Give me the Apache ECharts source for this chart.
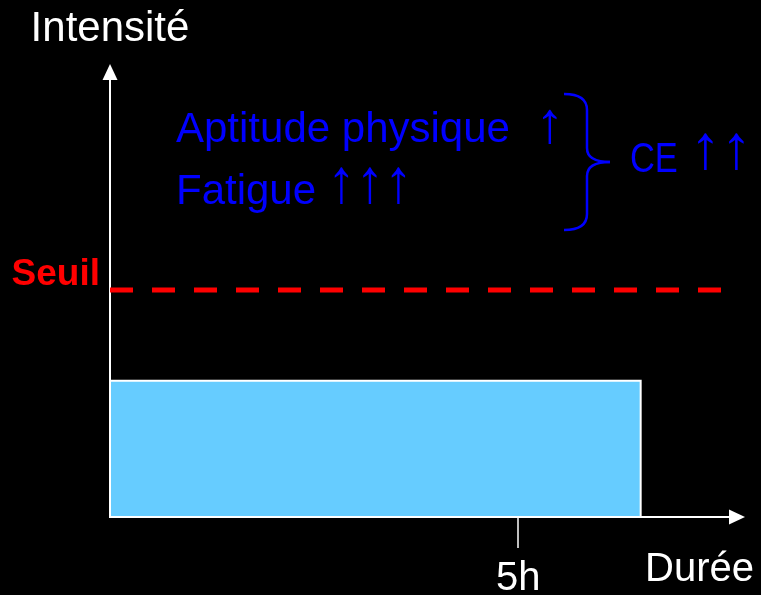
<!DOCTYPE html>
<html>
<head>
<meta charset="utf-8">
<script src="https://cdn.jsdelivr.net/npm/echarts@6/dist/echarts.min.js"></script>
<style>
html,body{margin:0;padding:0;background:#000;}
#chart{width:761px;height:595px;}
</style>
</head>
<body>
<div id="chart"></div>
<script>
// bloc d'effort : de 0 à 6.5 h, intensité 60
const blocDuree = [0, 6.5];
const blocIntensite = [60];
const seuil = 100;
const seuilDuree = [0, 7.5];
const dureeTicks = [5];
const dureeLabels = ['5h'];
const seuilLabel = 'Seuil';

const font = 'Liberation Sans, Arial, sans-serif';
const blue = '#0000ff';
const braceStyle = {fill: 'none', stroke: blue, lineWidth: 2.5};

function blueText(x, y, text, size, extra, scaleX) {
    return {
        type: 'text', x: x, y: y, scaleX: scaleX || 1,
        style: Object.assign({text: text, fill: blue, font: size + 'px ' + font, verticalAlign: 'middle'}, extra || {})
    };
}

const chart = echarts.init(document.getElementById('chart'));
chart.setOption({
    backgroundColor: '#000',
    animation: false,
    grid: {left: 110, right: 24, top: 72, bottom: 78, outerBoundsMode: 'none'},
    xAxis: {
        type: 'value',
        min: 0,
        max: 7.68,
        splitLine: {show: false},
        axisLine: {
            show: true,
            onZero: false,
            symbol: ['none', 'triangle'],
            symbolSize: [15, 16],
            lineStyle: {color: '#fff', width: 2}
        },
        axisTick: {
            show: true,
            customValues: dureeTicks,
            length: 31,
            lineStyle: {color: '#fff', width: 1.5}
        },
        axisLabel: {
            customValues: dureeTicks,
            formatter: v => dureeLabels[dureeTicks.indexOf(v)],
            color: '#fff',
            fontFamily: font,
            fontSize: 40,
            margin: 42
        }
    },
    yAxis: {
        type: 'value',
        min: 0,
        max: 196,
        name: 'Intensité',
        nameLocation: 'end',
        nameGap: 22,
        nameTextStyle: {color: '#fff', fontFamily: font, fontSize: 42, align: 'center'},
        splitLine: {show: false},
        axisLine: {
            show: true,
            onZero: false,
            symbol: ['none', 'triangle'],
            symbolSize: [15, 16],
            lineStyle: {color: '#fff', width: 2}
        },
        axisTick: {show: false},
        axisLabel: {
            customValues: [seuil],
            formatter: () => seuilLabel,
            color: '#ff0000',
            fontFamily: font,
            fontWeight: 'bold',
            fontSize: 37,
            lineHeight: 30,
            margin: 10,
            verticalAlign: 'bottom'
        }
    },
    series: [
        {
            type: 'custom',
            z: 1,
            renderItem(params, api) {
                const p0 = api.coord([api.value(0), 0]);
                const p1 = api.coord([api.value(1), api.value(2)]);
                return {
                    type: 'rect',
                    shape: {x: p0[0], y: p1[1], width: p1[0] - p0[0], height: p0[1] - p1[1]},
                    style: {fill: '#66ccff', stroke: '#fff', lineWidth: 2}
                };
            },
            data: [[blocDuree[0], blocDuree[1], blocIntensite[0]]]
        },
        {
            type: 'line',
            symbol: 'none',
            lineStyle: {color: '#ff0000', width: 5, type: [23, 19]},
            data: [[seuilDuree[0], seuil], [seuilDuree[1], seuil]]
        }
    ],
    graphic: [
        {type: 'text', x: 645, y: 590, style: {text: 'Durée', fill: '#fff', font: '40px ' + font, verticalAlign: 'bottom'}},
        blueText(176, 130, 'Aptitude physique', 42),
        blueText(550, 126, '↑', 58, {align: 'center'}),
        blueText(176, 192, 'Fatigue', 42),
        blueText(370, 185, '↑↑↑', 62, {align: 'center'}, 0.92),
        blueText(630, 160, 'CE', 42, null, 0.82),
        blueText(721, 151, '↑↑', 62, {align: 'center'}),
        // accolade
        {type: 'bezierCurve', shape: {x1: 564, y1: 94, cpx1: 587, cpy1: 94, x2: 587, y2: 110}, style: braceStyle},
        {type: 'line', shape: {x1: 587, y1: 110, x2: 587, y2: 148}, style: braceStyle},
        {type: 'bezierCurve', shape: {x1: 587, y1: 148, cpx1: 587, cpy1: 162, x2: 610, y2: 162}, style: braceStyle},
        {type: 'bezierCurve', shape: {x1: 610, y1: 162, cpx1: 587, cpy1: 162, x2: 587, y2: 176}, style: braceStyle},
        {type: 'line', shape: {x1: 587, y1: 176, x2: 587, y2: 214}, style: braceStyle},
        {type: 'bezierCurve', shape: {x1: 587, y1: 214, cpx1: 587, cpy1: 230, x2: 564, y2: 230}, style: braceStyle}
    ]
});
</script>
</body>
</html>
